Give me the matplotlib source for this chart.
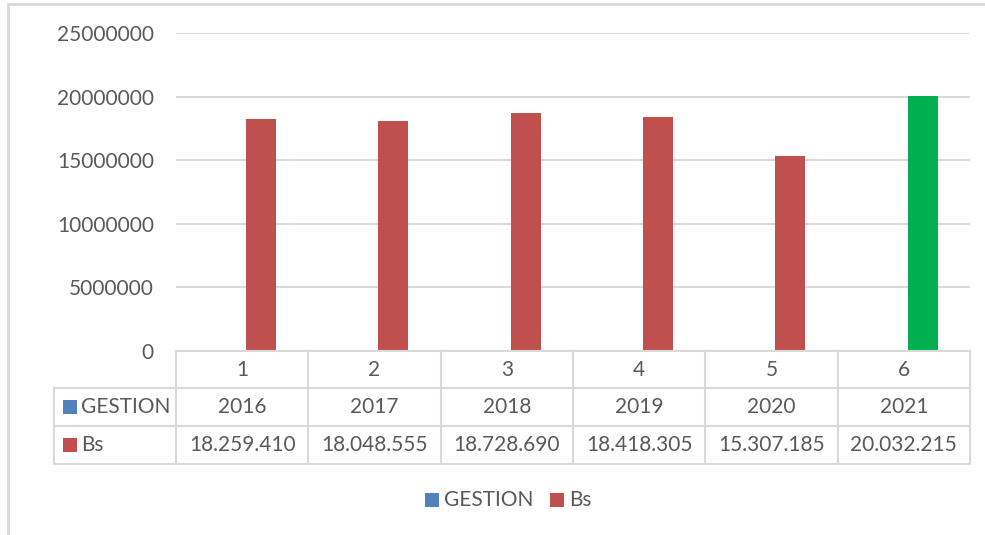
import matplotlib
matplotlib.use('Agg')
import matplotlib.pyplot as plt
import matplotlib.transforms as mtransforms
from matplotlib.patches import Rectangle
from matplotlib.lines import Line2D

# datos
categorias = ['1', '2', '3', '4', '5', '6']
gestion = [2016, 2017, 2018, 2019, 2020, 2021]
bs = [18259410, 18048555, 18728690, 18418305, 15307185, 20032215]
bs_etiquetas = ['18.259.410', '18.048.555', '18.728.690', '18.418.305', '15.307.185', '20.032.215']
y_ticks = [0, 5000000, 10000000, 15000000, 20000000, 25000000]

AZUL = '#4f81bd'
ROJO = '#c0504d'
VERDE = '#00b050'
GRIS = '#d9d9d9'
TEXTO = '#595959'

plt.rcParams['font.family'] = ['Lato', 'DejaVu Sans']
FS = 15

W, H = 985, 535
fig = plt.figure(figsize=(W / 100, H / 100), dpi=100)


def fx(px):
    return px / W


def fy(py):
    return 1 - py / H


# area del grafico
ax = fig.add_axes([fx(176), fy(351), fx(970) - fx(176), fy(33) - fy(351)])
n = len(categorias)
ax.set_xlim(-0.5, n - 0.5)
ax.set_ylim(0, 25000000)
for s in ax.spines.values():
    s.set_visible(False)
ax.set_xticks([])
ax.set_yticks(y_ticks)
ax.set_yticklabels([str(v) for v in y_ticks], fontsize=FS, color=TEXTO)
ax.tick_params(axis='y', length=0, pad=16)
ax.yaxis.grid(True, color=GRIS, linewidth=1.5)
ax.set_axisbelow(True)

ancho = 0.225
colores_bs = [ROJO] * (n - 1) + [VERDE]
xs = list(range(n))
ax.bar([x - ancho + 0.03 for x in xs], gestion, width=ancho, align='edge', color=AZUL)
ax.bar([x + 0.03 for x in xs], bs, width=ancho, align='edge', color=colores_bs)

# tabla de datos
tr = mtransforms.blended_transform_factory(ax.transData, fig.transFigure)
x_izq = 54

fig.add_artist(Line2D([fx(176), fx(970)], [fy(351), fy(351)], color=GRIS, lw=1.5))
for py in [388, 426, 464]:
    fig.add_artist(Line2D([fx(x_izq), fx(970)], [fy(py), fy(py)], color=GRIS, lw=1.5))
for i in range(n + 1):
    fig.add_artist(Line2D([i - 0.5, i - 0.5], [fy(351), fy(464)], color=GRIS, lw=1.5,
                          transform=tr))
fig.add_artist(Line2D([fx(x_izq), fx(x_izq)], [fy(388), fy(464)], color=GRIS, lw=1.5))

for i in range(n):
    fig.text(i, fy((351 + 388) / 2), categorias[i], transform=tr, ha='center', va='center',
             fontsize=FS, color=TEXTO)
    fig.text(i, fy((388 + 426) / 2), str(gestion[i]), transform=tr, ha='center', va='center',
             fontsize=FS, color=TEXTO)
    fig.text(i, fy((426 + 464) / 2), bs_etiquetas[i], transform=tr, ha='center', va='center',
             fontsize=FS, color=TEXTO)

# claves de la tabla
for nombre, color, (ya, yb) in [('GESTION', AZUL, (388, 426)), ('Bs', ROJO, (426, 464))]:
    yc = (ya + yb) / 2
    fig.add_artist(Rectangle((fx(63), fy(yc + 7)), fx(14), fy(0) - fy(14),
                             facecolor=color, edgecolor='none'))
    fig.text(fx(81), fy(yc), nombre, ha='left', va='center', fontsize=FS, color=TEXTO)

# leyenda
for nombre, color, x0 in [('GESTION', AZUL, 425), ('Bs', ROJO, 550)]:
    fig.add_artist(Rectangle((fx(x0), fy(507)), fx(14), fy(0) - fy(14),
                             facecolor=color, edgecolor='none'))
    fig.text(fx(x0 + 19), fy(500), nombre, ha='left', va='center', fontsize=FS, color=TEXTO)

# borde exterior
fig.add_artist(Rectangle((fx(8), fy(H + 10)), fx(W + 10), fy(4) - fy(H + 10),
                         facecolor='none', edgecolor=GRIS, lw=2))

fig.savefig('out.png', dpi=100)
